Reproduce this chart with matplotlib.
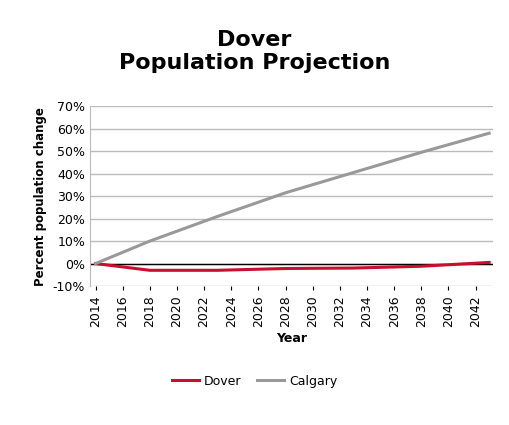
import matplotlib
matplotlib.use("Agg")
import matplotlib.pyplot as plt
from matplotlib.ticker import FuncFormatter

years = [2014, 2018, 2023, 2028, 2033, 2038, 2043]
dover = [0.0, -3.0, -3.0, -2.2, -2.0, -1.2, 0.5]
calgary = [0.0, 10.0, 21.0, 31.5, 40.5, 49.5, 58.0]
xticks = list(range(2014, 2043, 2))

fig = plt.figure(figsize=(5.09, 4.25), dpi=100)
ax = fig.add_axes([0.177, 0.327, 0.792, 0.423])
ax.plot(years, dover, color="#C8102E", lw=2.2, label="Dover", zorder=3)
ax.plot(years, calgary, color="#999999", lw=2.2, label="Calgary", zorder=3)
ax.set_xlim(2013.6, 2043.3)
ax.set_ylim(-10, 70)
ax.set_yticks(range(-10, 71, 10))
ax.yaxis.set_major_formatter(FuncFormatter(lambda v, p: f"{int(v)}%"))
ax.set_xticks(xticks)
ax.tick_params(axis="x", rotation=90, labelsize=9, length=3)
ax.tick_params(axis="y", labelsize=9, length=0)
ax.grid(axis="y", color="#BBBBBB", lw=1)
ax.axhline(0, color="black", lw=1, zorder=2)
for s in ["top", "right", "left", "bottom"]:
    ax.spines[s].set_visible(False)
ax.spines["left"].set_visible(True)
ax.spines["left"].set_color("#BBBBBB")
ax.set_xlabel("Year", fontweight="bold", fontsize=9)
ax.set_ylabel("Percent population change", fontweight="bold", fontsize=8.5)
fig.suptitle("Dover\nPopulation Projection", fontweight="bold", fontsize=16, y=0.93)
fig.legend(loc="center", bbox_to_anchor=(0.5, 0.103), ncol=2, frameon=False, fontsize=9,
           handlelength=2.2, columnspacing=1.2, handletextpad=0.4)
fig.savefig("out.png")
